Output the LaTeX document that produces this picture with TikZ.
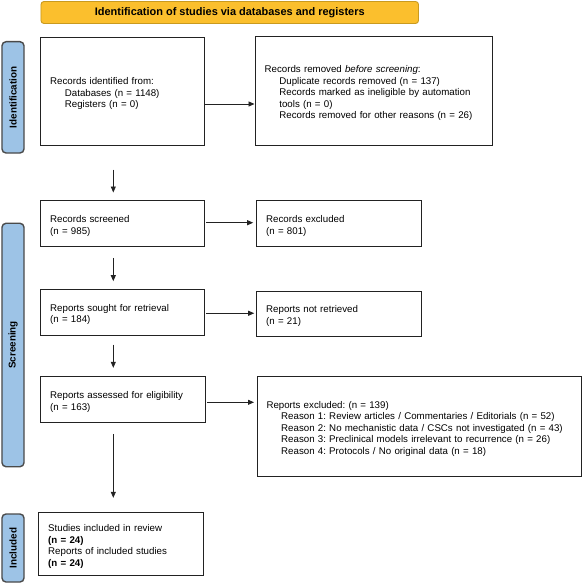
\documentclass[tikz,border=0pt]{standalone}
\usepackage{fontspec}
\setmainfont{Liberation Sans}
\usetikzlibrary{arrows.meta,calc}
\definecolor{titlefill}{HTML}{FBBF2D}
\definecolor{titledraw}{HTML}{C99A1F}
\definecolor{sidefill}{HTML}{9DC3E6}
\definecolor{sidedraw}{HTML}{4A4A4A}
\definecolor{linecol}{HTML}{222222}
\tikzset{
  box/.style={draw=linecol, line width=1bp, inner xsep=9bp, inner ysep=0pt, align=left,
    font=\fontsize{9.75}{11.5}\selectfont, execute at end node={\par\vspace*{-4.5bp}}},
  titlebox/.style={draw=titledraw, fill=titlefill, line width=0.9bp, rounded corners=3bp,
    font=\fontsize{11}{12}\selectfont\bfseries, inner sep=0pt},
  sidebox/.style={draw=sidedraw, fill=sidefill, line width=1.4bp, rounded corners=4bp,
    rotate=90, font=\fontsize{9.9}{11.4}\selectfont\bfseries, inner sep=0pt},
  arr/.style={draw=linecol, line width=0.8bp, -{Triangle[length=6bp,width=5bp]}}
}
\newcommand{\ind}{\hspace*{14.7bp}}
\frenchspacing
\begin{document}
\frenchspacing
\begin{tikzpicture}[x=1bp,y=-1bp]
\useasboundingbox (0,0) rectangle (583,583);
% title
\node[titlebox, minimum width=377.5bp, minimum height=22bp] (title) at (229.75,12.5)
  {Identification of studies via databases and registers};
% side labels
\node[sidebox, minimum width=111.3bp, minimum height=22bp] (sid) at (13,97.35) {Identification};
\node[sidebox, minimum width=243.4bp, minimum height=22bp] (sscr) at (13,345) {Screening};
\node[sidebox, minimum width=68bp, minimum height=22bp] (sinc) at (13,548) {Included};
% boxes
\node[box, minimum width=164bp, minimum height=108bp, text width=145bp] (b1) at (122.7,91.3)
  {Records identified from:\\ \ind Databases (n = 1148)\\ \ind Registers (n = 0)};
\node[box, minimum width=237.3bp, minimum height=108.3bp, text width=218bp] (b2) at (373.65,90.85)
  {Records removed \textit{before screening}:\\ \ind Duplicate records removed (n = 137)\\ \ind Records marked as ineligible by automation\\ \ind tools (n = 0)\\ \ind Records removed for other reasons (n = 26)};
\node[box, minimum width=164bp, minimum height=46bp, text width=145bp] (b3) at (122.7,223.7)
  {Records screened\\ (n = 985)};
\node[box, minimum width=164.6bp, minimum height=46bp, text width=145.6bp] (b4) at (339,223.7)
  {Records excluded\\ (n = 801)};
\node[box, minimum width=164bp, minimum height=46.3bp, text width=145bp] (b5) at (122.7,312.15)
  {Reports sought for retrieval\\ (n = 184)};
\node[box, minimum width=164.6bp, minimum height=45.7bp, text width=145.6bp] (b6) at (339,313.85)
  {Reports not retrieved\\ (n = 21)};
\node[box, minimum width=164.6bp, minimum height=46bp, text width=145.6bp] (b7) at (123,399.7)
  {Reports assessed for eligibility\\ (n = 163)};
\node[box, minimum width=324.7bp, minimum height=99.3bp, text width=305.7bp] (b8) at (419.35,426.35)
  {Reports excluded: (n = 139)\\ \ind Reason 1: Review articles / Commentaries / Editorials (n = 52)\\ \ind Reason 2: No mechanistic data / CSCs not investigated (n = 43)\\ \ind Reason 3: Preclinical models irrelevant to recurrence (n = 26)\\ \ind Reason 4: Protocols / No original data (n = 18)};
\node[box, minimum width=164.6bp, minimum height=63bp, text width=145.6bp] (b9) at (121,544.2)
  {Studies included in review\\ \textbf{(n = 24)}\\ Reports of included studies\\ \textbf{(n = 24)}};
% horizontal arrows
\draw[arr] ([yshift=-12.7bp]b1.east) -- ([yshift=-12.7bp]b1.east -| b2.west);
\draw[arr, shorten <=1bp, shorten >=3bp] ([yshift=1bp]b3.east) -- ([yshift=1bp]b3.east -| b4.west);
\draw[arr, shorten <=1bp, shorten >=2bp] ([yshift=-1.1bp]b5.east) -- ([yshift=-1.1bp]b5.east -| b6.west);
\draw[arr, shorten <=1.4bp, shorten >=2.5bp] ([yshift=-2.6bp]b7.east) -- ([yshift=-2.6bp]b7.east -| b8.west);
% vertical arrows
\coordinate (xc) at (113.3,0);
\draw[arr, shorten <=23.7bp, shorten >=7.7bp] (b1.south -| xc) -- (b3.north -| xc);
\draw[arr, shorten <=10.6bp, shorten >=7.3bp] (b3.south -| xc) -- (b5.north -| xc);
\draw[arr, shorten <=8.7bp, shorten >=8.4bp] (b5.south -| xc) -- (b7.north -| xc);
\draw[arr, shorten <=10.6bp, shorten >=14.4bp] (b7.south -| xc) -- (b9.north -| xc);
\end{tikzpicture}
\end{document}
